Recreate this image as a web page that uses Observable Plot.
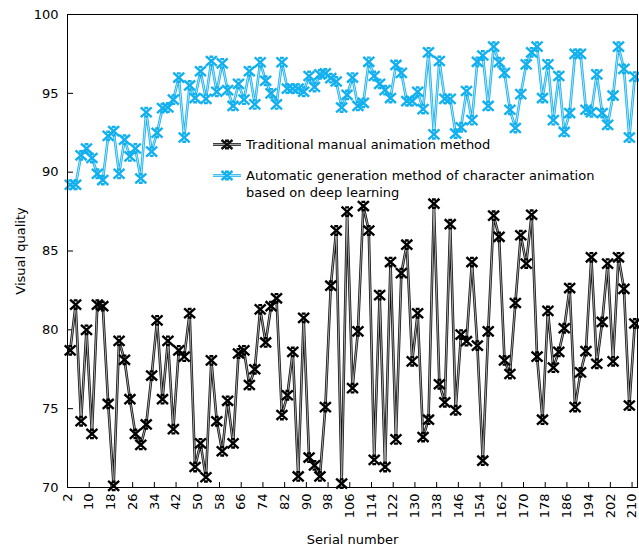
<!DOCTYPE html>
<html>
<head>
<meta charset="utf-8">
<script src="https://cdn.jsdelivr.net/npm/d3@7"></script>
<script src="https://cdn.jsdelivr.net/npm/@observablehq/plot@0.6"></script>
<style>
  body { margin: 0; background: #fff; }
  #wrap { position: relative; width: 639px; height: 549px; font-family: "DejaVu Sans", sans-serif; }
  .leg { position: absolute; display: flex; align-items: flex-start; font-size: 13px; color: #000; }
  .leg svg { flex: none; margin-right: 4px; }
  .leg .t { line-height: 17px; }
</style>
</head>
<body>
<div id="wrap"></div>
<script>
const traditional = [
  78.7,81.6,74.2,80.0,73.4,81.6,81.5,75.3,70.1,79.3,78.1,75.6,73.4,72.7,74.0,77.1,80.6,75.6,79.3,73.7,78.7,
  78.3,81.05,71.3,72.8,70.65,78.06,74.2,72.3,75.5,72.8,78.5,78.7,76.5,77.5,81.3,79.2,81.5,82.0,74.6,75.85,78.6,
  70.7,80.76,71.9,71.4,70.7,75.1,82.8,86.3,70.25,87.5,76.3,79.9,87.85,86.3,71.75,82.2,71.3,84.3,73.05,83.6,85.4,78.0,
  81.05,73.2,74.3,88.0,76.55,75.4,86.7,74.9,79.7,79.28,84.3,79.0,71.7,79.9,87.24,85.9,78.06,77.2,81.7,86.0,84.2,
  87.3,78.3,74.3,81.2,77.6,78.6,80.1,82.65,75.1,77.3,78.65,84.6,77.85,80.5,84.2,78.0,84.6,82.6,75.2,80.4
];
const automatic = [
  89.2,89.2,91.07,91.5,90.9,89.9,89.5,92.3,92.6,89.9,92.06,91.0,91.5,89.6,93.8,91.3,92.5,94.06,94.1,94.6,96.0,
  92.2,95.5,94.7,96.4,94.65,97.05,95.1,96.9,95.2,94.2,95.6,94.6,96.4,94.3,96.97,95.8,95.0,94.3,96.97,95.3,95.3,
  95.3,95.1,96.1,95.4,96.2,96.27,95.96,95.75,94.1,94.9,96.0,94.2,94.4,97.0,96.1,95.6,95.2,94.7,96.8,96.3,94.5,94.5,
  95.1,94.0,97.6,92.4,97.05,94.65,94.65,92.45,92.85,95.15,93.3,97.0,97.4,94.2,97.96,96.97,96.3,93.96,92.8,94.95,96.84,
  97.6,97.96,94.7,96.84,93.3,96.1,92.55,93.75,97.5,97.5,93.96,93.8,96.2,93.75,93.0,94.86,97.96,96.55,92.2,96.06
];
const serial = traditional.map((_, i) => 3 + 2 * i);
const xTicks = d3.range(2, 211, 8);
const yTicks = [70, 75, 80, 85, 90, 95, 100];
const seriesNames = ["Traditional manual animation method",
  "Automatic generation method of character animation based on deep learning"];

const tradData = serial.map((x, i) => ({x, y: traditional[i]}));
const autoData = serial.map((x, i) => ({x, y: automatic[i]}));

const xMark = {
  draw(ctx, size) {
    const r = Math.sqrt(size / Math.PI);
    const h = r * 0.9;
    ctx.moveTo(-r, -h); ctx.lineTo(r, h);
    ctx.moveTo(-r, h); ctx.lineTo(r, -h);
    ctx.moveTo(-r * 0.35, -h * 0.85); ctx.lineTo(r * 0.35, -h * 0.85);
    ctx.moveTo(-r * 0.35, h * 0.85); ctx.lineTo(r * 0.35, h * 0.85);
  }
};

const W = 639, H = 549, mL = 67, mR = 2, mT = 14, mB = 62;
const blue = "#12b0ee", blueLight = "#bde8fa";

const chart = Plot.plot({
  width: W, height: H,
  marginLeft: mL, marginRight: mR, marginTop: mT, marginBottom: mB,
  x: {domain: [2, 212]},
  y: {domain: [70, 100]},
  style: {fontFamily: "DejaVu Sans", fontSize: "13px", color: "#000", background: "#fff", overflow: "visible"},
  marks: [
    Plot.axisX({ticks: xTicks, tickSize: 0, tickPadding: 6, tickRotate: -90, label: "Serial number",
      labelAnchor: "center", labelOffset: 56, labelArrow: "none"}),
    Plot.axisY({ticks: yTicks, tickSize: 0, tickPadding: 9, label: "Visual quality",
      labelAnchor: "center", labelOffset: 52, labelArrow: "none"}),
    Plot.tickX(xTicks, {x: d => d, insetTop: H - mT - mB - 5, stroke: "#000"}),
    Plot.tickY(yTicks, {y: d => d, insetRight: W - mL - mR - 6, stroke: "#000"}),
    Plot.line(tradData, {x: "x", y: "y", stroke: "#111", strokeWidth: 2.6}),
    Plot.line(tradData, {x: "x", y: "y", stroke: "#b5b5b5", strokeWidth: 0.9}),
    Plot.line(autoData, {x: "x", y: "y", stroke: blue, strokeWidth: 2.6}),
    Plot.line(autoData, {x: "x", y: "y", stroke: blueLight, strokeWidth: 0.9}),
    Plot.dot(tradData, {x: "x", y: "y", symbol: xMark, r: 5.5, stroke: "#000", strokeWidth: 2.4, fill: "none"}),
    Plot.dot(autoData, {x: "x", y: "y", symbol: xMark, r: 5.5, stroke: blue, strokeWidth: 2.4, fill: "none"}),
    Plot.frame({stroke: "#000"})
  ]
});

const wrap = document.getElementById("wrap");
wrap.appendChild(chart);

function legendSwatch(c1, c2) {
  return `<svg width="30" height="17" viewBox="0 0 30 17">
    <line x1="1" y1="8.5" x2="29" y2="8.5" stroke="${c1}" stroke-width="2.6"/>
    <line x1="1" y1="8.5" x2="29" y2="8.5" stroke="${c2}" stroke-width="0.9"/>
    <path d="M9.5,4L20.5,13M9.5,13L20.5,4M13,4.7L17,4.7M13,12.3L17,12.3" stroke="${c1}" stroke-width="2.4" fill="none"/>
  </svg>`;
}
const leg1 = document.createElement("div");
leg1.className = "leg";
leg1.style.left = "212px"; leg1.style.top = "136px";
leg1.innerHTML = legendSwatch("#111", "#b5b5b5") + `<span class="t">${seriesNames[0]}</span>`;
wrap.appendChild(leg1);

const leg2 = document.createElement("div");
leg2.className = "leg";
leg2.style.left = "212px"; leg2.style.top = "167px";
leg2.innerHTML = legendSwatch(blue, blueLight) +
  `<span class="t">Automatic generation method of character animation<br>based on deep learning</span>`;
wrap.appendChild(leg2);
</script>
</body>
</html>
